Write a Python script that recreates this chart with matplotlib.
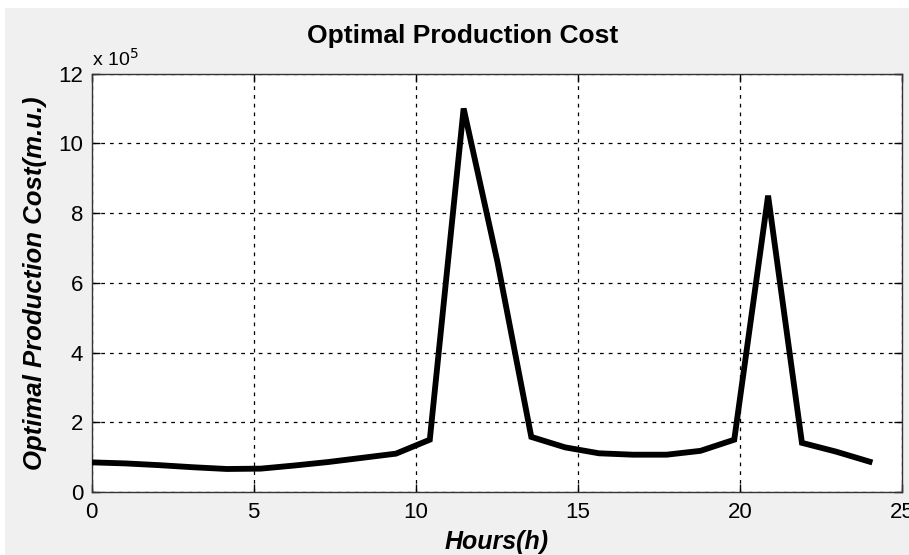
import numpy as np
import matplotlib
matplotlib.use("Agg")
import matplotlib.pyplot as plt
from matplotlib.patches import Rectangle

plt.rcParams['font.family'] = ['Liberation Sans', 'DejaVu Sans']

hours = np.linspace(0, 24, 24)
cost_e5 = [0.85, 0.82, 0.77, 0.71, 0.66, 0.67, 0.76, 0.86, 0.98, 1.10,
           1.50, 11.0, 6.6, 1.58, 1.28, 1.11, 1.07, 1.07, 1.18, 1.50,
           8.5, 1.41, 1.16, 0.87]
cost = np.array(cost_e5) * 1e5

xticks = [0, 5, 10, 15, 20, 25]
yticks = [0, 2, 4, 6, 8, 10, 12]

fig = plt.figure(figsize=(9.09, 5.55), dpi=100, facecolor='white')
fig.patches.append(Rectangle((5/909, 0), 1, (555-8)/555, transform=fig.transFigure,
                             facecolor='#f0f0f0', edgecolor='none', zorder=-10))

ax = fig.add_axes([91.5/909, (555-492)/555, (902-91.5)/909, (492-73.6)/555])
ax.set_facecolor('white')
ax.plot(hours, cost, color='black', lw=4.2, solid_joinstyle='miter', zorder=3)
ax.set_xlim(0, 25)
ax.set_ylim(0, 12e5)
ax.set_xticks(xticks)
ax.set_xticklabels([str(v) for v in xticks])
ax.set_yticks([v * 1e5 for v in yticks])
ax.set_yticklabels([str(v) for v in yticks])
ax.grid(True, color='black', linestyle=(0, (3, 4)), linewidth=0.9)
ax.tick_params(direction='in', length=6, width=1, top=True, right=True,
               labelsize=16, colors='black')
ax.tick_params(axis='x', pad=7)
ax.tick_params(axis='y', pad=6)
for s in ax.spines.values():
    s.set_linewidth(1.0)
    s.set_color('#333333')

ax.set_title('Optimal Production Cost', fontsize=19, fontweight='bold', pad=22,
             x=0.458)
ax.set_xlabel('Hours(h)', fontsize=18, fontweight='bold', style='italic', labelpad=5)
ax.set_ylabel('Optimal Production Cost(m.u.)', fontsize=18.5, fontweight='bold',
              style='italic', labelpad=8)
ax.text(0.0, 1.01, r'x 10$^{5}$', transform=ax.transAxes, fontsize=14,
        ha='left', va='bottom')

fig.savefig('out.png', dpi=100, facecolor=fig.get_facecolor())
